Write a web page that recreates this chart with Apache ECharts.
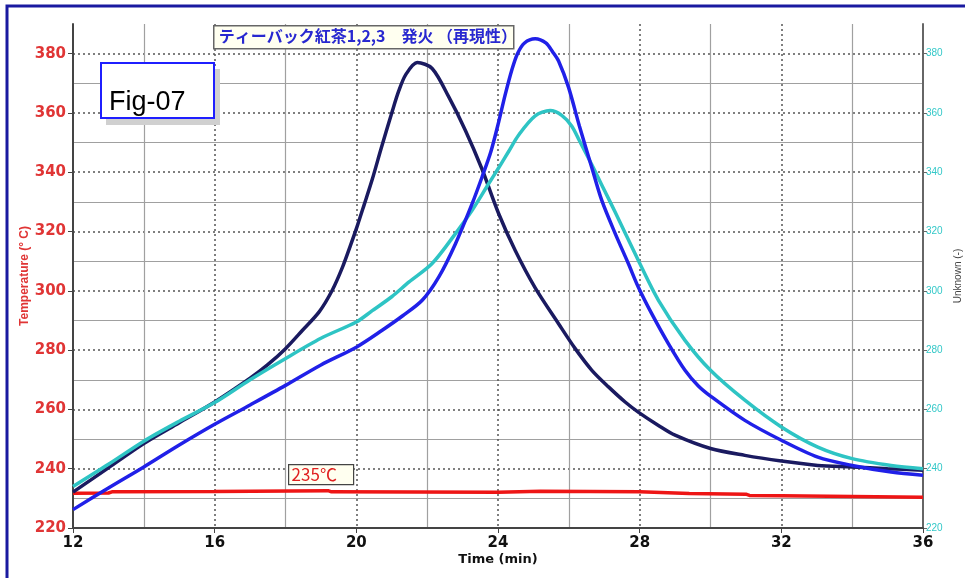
<!DOCTYPE html>
<html>
<head>
<meta charset="utf-8">
<script src="https://cdn.jsdelivr.net/npm/echarts@6/dist/echarts.min.js"></script>
<style>
  html, body { margin: 0; padding: 0; background: #fff; }
  #chart { width: 965px; height: 578px; }
</style>
</head>
<body>
<div id="chart"></div>
<script>
// time (min) / temperature readings for each trace
const navyTime = [12, 13, 14, 15, 16, 17, 17.49, 18, 18.48, 18.95, 19.32, 19.61, 19.84, 20.03, 20.22, 20.45, 20.7, 21.0, 21.2, 21.4, 21.72, 22.14, 22.61, 23.08, 23.55, 24.02, 24.49, 25.05, 25.71, 26.18, 26.65, 27.12, 27.59, 27.96, 28.53, 29, 30, 30.97, 32, 33.03, 34, 35, 36]
const navyTemp = [232.1, 240.3, 248.5, 255.5, 262.5, 270.5, 275, 280.5, 286.7, 292.9, 300.2, 308, 315.5, 322, 329, 337.6, 348, 360, 367.5, 373, 377, 375, 365.4, 354.1, 341, 326, 313.5, 301, 288.9, 280.5, 273.2, 267.6, 262.5, 259.1, 254.6, 251.3, 246.8, 244.5, 242.6, 241.1, 240.6, 240, 239.5]

const blueTime = [12, 13, 14, 15, 16, 17, 18, 19, 20, 20.73, 21.3, 21.86, 22.33, 22.8, 23.27, 23.55, 23.8, 24.02, 24.2, 24.39, 24.55, 24.75, 25.05, 25.35, 25.55, 25.71, 25.99, 26.3, 26.65, 26.93, 27.31, 27.68, 27.96, 28.34, 28.81, 29.28, 29.65, 30, 30.97, 32, 33.03, 34, 35.1, 36]
const blueTemp = [226.2, 233.5, 240.6, 248, 255, 261.5, 268.1, 275, 281, 286.7, 291.5, 296.8, 304.7, 315.9, 329.4, 338.4, 347, 357, 366, 374.5, 380, 383.6, 385, 383.6, 380.5, 377.5, 368.7, 355.5, 341.5, 330.5, 319.3, 309.2, 301.3, 292.3, 282.2, 273.2, 268, 264.5, 256.3, 249.6, 243.9, 241.1, 238.9, 237.8]

const cyanTime = [12, 13, 14, 15, 16, 17, 17.92, 19, 20, 20.45, 21.0, 21.49, 22.14, 22.8, 23.27, 23.74, 24.02, 24.3, 24.58, 25.05, 25.47, 25.8, 26.08, 26.3, 26.65, 27.0, 27.31, 27.96, 28.53, 29.28, 30, 30.97, 32, 33.03, 34, 35.1, 36]
const cyanTemp = [234, 241.5, 249.3, 256, 262.3, 270, 276.6, 284, 289.5, 293.3, 298, 303, 309.2, 319.3, 327.2, 336.2, 341.5, 347, 352.5, 359, 360.8, 359.2, 355.6, 350.6, 342.5, 334, 326.5, 310.3, 296.8, 283.3, 273.2, 263.1, 254.1, 247.3, 243.4, 241.1, 240]

const redTime = [12, 13, 13.1, 16, 19.2, 19.3, 24, 25.2, 28, 29.4, 31, 31.1, 32, 36]
const redTemp = [231.7, 231.8, 232.2, 232.3, 232.6, 232.2, 232.1, 232.4, 232.2, 231.6, 231.4, 231, 230.9, 230.4]

const xTicks = [12, 16, 20, 24, 28, 32, 36]
const yTicks = [220, 240, 260, 280, 300, 320, 340, 360, 380]

const titleText = 'ティーバック紅茶1,2,3　発火 （再現性）'
const figText = 'Fig-07'
const tempNote = '235℃'

const chart = echarts.init(document.getElementById('chart'))

function pairs (t, v) {
  return t.map((x, i) => [x, v[i]])
}

function line (name, t, v, color, smooth) {
  return {
    name: name,
    type: 'line',
    data: pairs(t, v),
    showSymbol: false,
    smooth: smooth,
    lineStyle: { color: color, width: 3.5 },
    z: 3
  }
}

const xMin = xTicks[0]
const xMax = xTicks[xTicks.length - 1]
const yMin = yTicks[0]
const yMax = 390

const option = {
  backgroundColor: '#fff',
  animation: false,
  grid: { left: 73, right: 42, top: 24, bottom: 50, outerBoundsMode: 'none' },
  xAxis: [{
    type: 'value',
    min: xMin,
    max: xMax,
    interval: 4,
    name: 'Time (min)',
    nameLocation: 'middle',
    nameGap: 25,
    nameMoveOverlap: false,
    nameTextStyle: { color: '#111', fontSize: 13, fontWeight: 'bold', fontFamily: 'DejaVu Sans' },
    axisLine: { lineStyle: { color: '#444', width: 2 } },
    axisTick: { show: true, length: 5, inside: false, lineStyle: { color: '#444' } },
    axisLabel: { color: '#111', fontSize: 15, fontWeight: 'bold', margin: 8, fontFamily: 'DejaVu Sans' },
    splitLine: { show: true, showMinLine: false, showMaxLine: false, lineStyle: { color: '#555', type: [2, 3], width: 1.5 } }
  }, {
    // minor grid every 2 min
    type: 'value',
    min: xMin,
    max: xMax,
    interval: 2,
    axisLine: { show: false },
    axisTick: { show: false },
    axisLabel: { show: false },
    splitLine: { show: true, showMinLine: false, showMaxLine: false, lineStyle: { color: ['#a0a0a0', 'rgba(0,0,0,0)'], width: 1.2 } }
  }],
  yAxis: [{
    type: 'value',
    min: yMin,
    max: yMax,
    interval: 20,
    name: 'Temperature (° C)',
    nameLocation: 'middle',
    nameGap: 42,
    nameMoveOverlap: false,
    nameTextStyle: { color: '#e03535', fontSize: 12, fontWeight: 'bold', fontFamily: 'Liberation Sans' },
    axisLine: { show: true, lineStyle: { color: '#444', width: 2 } },
    axisTick: { show: true, length: 5, lineStyle: { color: '#444' } },
    axisLabel: { color: '#e03535', fontSize: 15, fontWeight: 'bold', margin: 7, showMaxLabel: false, fontFamily: 'DejaVu Sans' },
    splitLine: { show: true, showMinLine: false, showMaxLine: false, lineStyle: { color: '#555', type: [2, 3], width: 1.5 } }
  }, {
    type: 'value',
    min: yMin,
    max: yMax,
    interval: 20,
    position: 'right',
    name: 'Unknown (-)',
    nameLocation: 'middle',
    nameGap: 30,
    nameRotate: 90,
    nameMoveOverlap: false,
    nameTextStyle: { color: '#444', fontSize: 10, fontFamily: 'Liberation Sans' },
    axisLine: { show: true, lineStyle: { color: '#666', width: 2 } },
    axisTick: { show: true, length: 4, lineStyle: { color: '#666' } },
    axisLabel: { color: '#33c8c8', fontSize: 10, margin: 3, showMaxLabel: false, fontFamily: 'Liberation Sans' },
    splitLine: { show: false }
  }, {
    // minor grid every 10 deg
    type: 'value',
    min: yMin,
    max: yMax,
    interval: 10,
    position: 'left',
    axisLine: { show: false },
    axisTick: { show: false },
    axisLabel: { show: false },
    splitLine: { show: true, showMinLine: false, showMaxLine: false, lineStyle: { color: ['#a0a0a0', 'rgba(0,0,0,0)'], width: 1.2 } }
  }],
  graphic: [
    {
      type: 'rect',
      shape: { x: 7, y: 6, width: 970, height: 590 },
      style: { fill: 'none', stroke: '#1a1aa0', lineWidth: 3 },
      z: 1
    },
    {
      type: 'group',
      left: 213,
      top: 25,
      z: 20,
      children: [
        { type: 'rect', z: 20, shape: { x: 0, y: 0, width: 300, height: 23 }, style: { fill: '#fffff0', stroke: '#666', lineWidth: 1.5 } },
        { type: 'text', z: 21, x: 5, y: 2, style: { text: titleText, fill: '#2828d0', font: 'bold 16px "Noto Sans CJK JP"' } }
      ]
    },
    {
      type: 'group',
      left: 100,
      top: 62,
      z: 20,
      children: [
        { type: 'rect', z: 20, shape: { x: 5, y: 6, width: 114, height: 56 }, style: { fill: '#d0d0d0' } },
        { type: 'rect', z: 21, shape: { x: 0, y: 0, width: 113, height: 55 }, style: { fill: '#fff', stroke: '#1f1fff', lineWidth: 2 } },
        { type: 'text', z: 22, x: 8, y: 26, style: { text: figText, fill: '#000', font: '27px "Liberation Sans"' } }
      ]
    },
    {
      type: 'group',
      left: 288,
      top: 464,
      z: 20,
      children: [
        { type: 'rect', z: 20, shape: { x: 0, y: 0, width: 65, height: 20 }, style: { fill: '#fffff0', stroke: '#444', lineWidth: 1.2 } },
        { type: 'text', z: 21, x: 3, y: 1, style: { text: tempNote, fill: '#e02020', font: '17px "Noto Sans CJK JP"' } }
      ]
    }
  ],
  series: [
    line('炉内温度', redTime, redTemp, '#ee1515', false),
    line('試料1', navyTime, navyTemp, '#1a1a60', 0.3),
    line('試料3', cyanTime, cyanTemp, '#2ec4c4', 0.3),
    line('試料2', blueTime, blueTemp, '#2020e8', 0.3)
  ]
}

chart.setOption(option)
</script>
</body>
</html>
